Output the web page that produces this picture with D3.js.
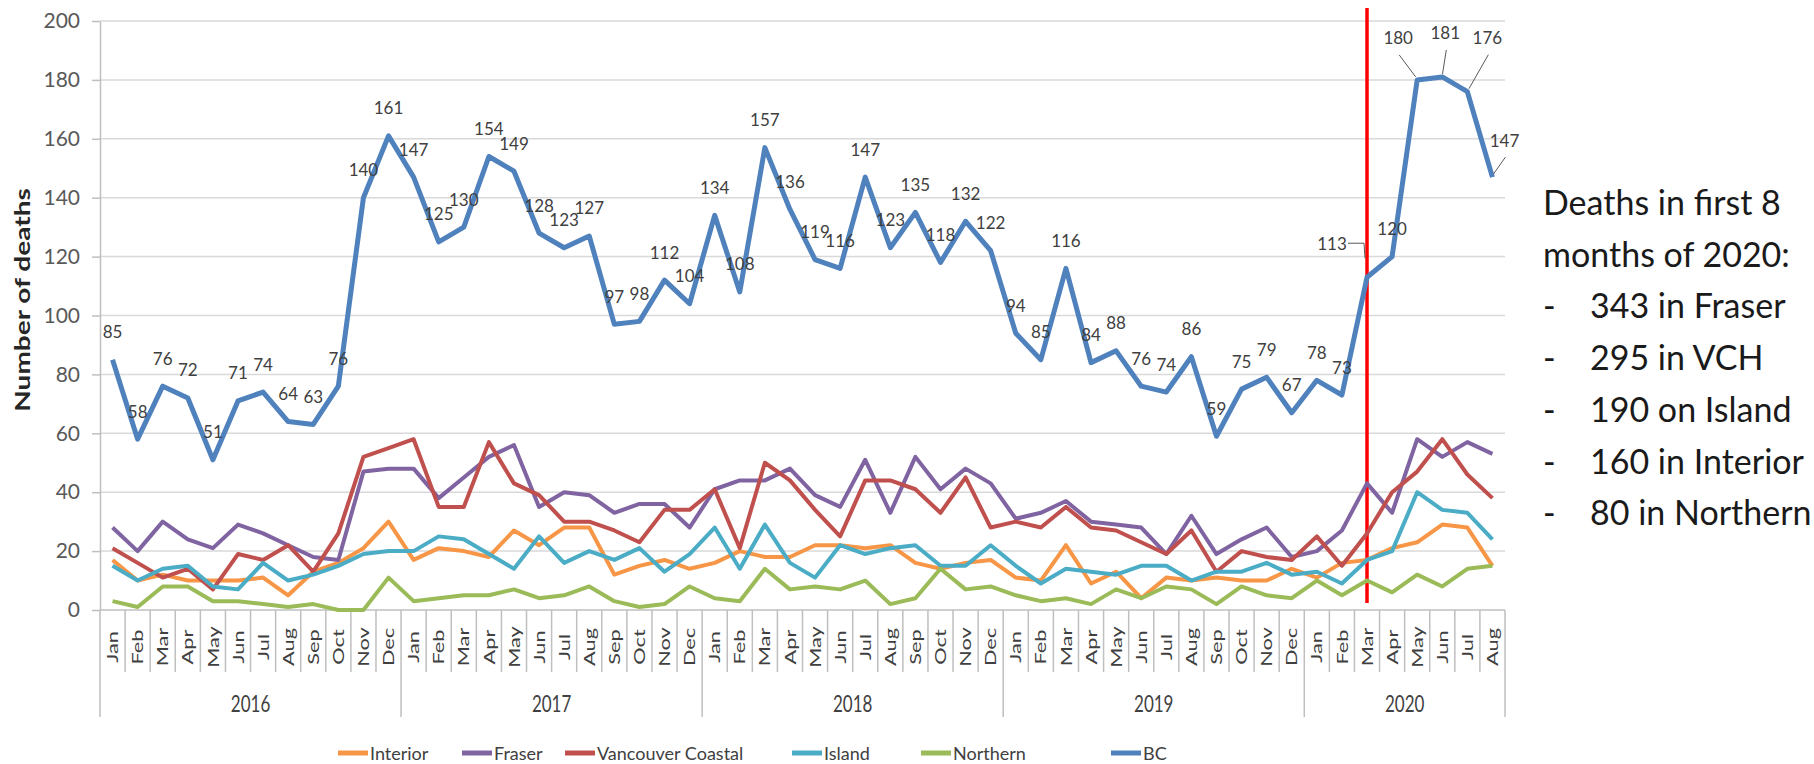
<!DOCTYPE html>
<html>
<head>
<meta charset="utf-8">
<script src="https://cdn.jsdelivr.net/npm/d3@7"></script>
<style>
  body { margin: 0; background: #fff; }
  svg { display: block; }
  text { font-family: Lato, "Open Sans", sans-serif; }
</style>
</head>
<body>
<svg id="chart" width="1814" height="764"></svg>
<script>
const monthNames = ["Jan","Feb","Mar","Apr","May","Jun","Jul","Aug","Sep","Oct","Nov","Dec"];
const years = ["2016","2017","2018","2019","2020"];

// monthly deaths, Jan 2016 - Aug 2020
const bc = [
  85, 58, 76, 72, 51, 71, 74, 64, 63, 76, 140, 161,
  147, 125, 130, 154, 149, 128, 123, 127, 97, 98, 112, 104,
  134, 108, 157, 136, 119, 116, 147, 123, 135, 118, 132, 122,
  94, 85, 116, 84, 88, 76, 74, 86, 59, 75, 79, 67,
  78, 73, 113, 120, 180, 181, 176, 147
];
const interior = [
  17, 10, 12, 10, 10, 10, 11, 5, 13, 16, 21, 30,
  17, 21, 20, 18, 27, 22, 28, 28, 12, 15, 17, 14,
  16, 20, 18, 18, 22, 22, 21, 22, 16, 14, 16, 17,
  11, 10, 22, 9, 13, 4, 11, 10, 11, 10, 10, 14,
  11, 16, 17, 21, 23, 29, 28, 15
];
const fraser = [
  28, 20, 30, 24, 21, 29, 26, 22, 18, 17, 47, 48,
  48, 38, 45, 52, 56, 35, 40, 39, 33, 36, 36, 28,
  41, 44, 44, 48, 39, 35, 51, 33, 52, 41, 48, 43,
  31, 33, 37, 30, 29, 28, 19, 32, 19, 24, 28, 18,
  20, 27, 43, 33, 58, 52, 57, 53
];
const vancouverCoastal = [
  21, 16, 11, 14, 7, 19, 17, 22, 13, 26, 52, 55,
  58, 35, 35, 57, 43, 39, 30, 30, 27, 23, 34, 34,
  41, 21, 50, 44, 34, 25, 44, 44, 41, 33, 45, 28,
  30, 28, 35, 28, 27, 23, 19, 27, 13, 20, 18, 17,
  25, 15, 26, 40, 47, 58, 46, 38
];
const island = [
  15, 10, 14, 15, 8, 7, 16, 10, 12, 15, 19, 20,
  20, 25, 24, 19, 14, 25, 16, 20, 17, 21, 13, 19,
  28, 14, 29, 16, 11, 22, 19, 21, 22, 15, 15, 22,
  15, 9, 14, 13, 12, 15, 15, 10, 13, 13, 16, 12,
  13, 9, 17, 20, 40, 34, 33, 24
];
const northern = [
  3, 1, 8, 8, 3, 3, 2, 1, 2, 0, 0, 11,
  3, 4, 5, 5, 7, 4, 5, 8, 3, 1, 2, 8,
  4, 3, 14, 7, 8, 7, 10, 2, 4, 14, 7, 8,
  5, 3, 4, 2, 7, 4, 8, 7, 2, 8, 5, 4,
  10, 5, 10, 6, 12, 8, 14, 15
];

const seriesNames = ["Interior", "Fraser", "Vancouver Coastal", "Island", "Northern", "BC"];
const seriesValues = [interior, fraser, vancouverCoastal, island, northern, bc];
const seriesColors = ["#F79646", "#8064A2", "#C0504D", "#4BACC6", "#9BBB59", "#4F81BD"];

const yTicks = [0, 20, 40, 60, 80, 100, 120, 140, 160, 180, 200];
const markerMonth = "2020-Mar";

const noteLines = [
  ["", "Deaths in first 8"],
  ["", "months of 2020:"],
  ["-", "343 in Fraser"],
  ["-", "295 in VCH"],
  ["-", "190 on Island"],
  ["-", "160 in Interior"],
  ["-", "80 in Northern"]
];

// layout bits
const legendX = [338, 462, 565, 792, 921, 1111];
const callouts = {
  50: { dx: -35, dy: -34, elbow: true },
  52: { dx: -19, dy: -42 },
  53: { dx: 3, dy: -44 },
  54: { dx: 20, dy: -54 },
  55: { dx: 12, dy: -37 }
};

const cats = [];
years.forEach(yr => monthNames.forEach(m => {
  if (cats.length < bc.length) cats.push({ year: yr, month: m, key: yr + "-" + m });
}));

const svg = d3.select("#chart");
svg.append("rect").attr("width", 1814).attr("height", 764).attr("fill", "#fff");

const x = d3.scaleBand().domain(cats.map(d => d.key)).range([100, 1505]);
const y = d3.scaleLinear().domain([0, 200]).range([610, 21]);
const cx = k => x(k) + x.bandwidth() / 2;
const [x0, x1] = x.range();

// gridlines
svg.append("g").selectAll("line").data(yTicks.filter(t => t > 0)).join("line")
  .attr("x1", x0).attr("x2", x1)
  .attr("y1", d => y(d)).attr("y2", d => y(d))
  .attr("stroke", "#d9d9d9").attr("stroke-width", 1.5);

// y axis
const yAxis = svg.append("g")
  .attr("transform", `translate(${x0},0)`)
  .call(d3.axisLeft(y).tickValues(yTicks).tickSize(8).tickSizeOuter(0).tickPadding(12));
yAxis.select(".domain").attr("stroke", "#bfbfbf").attr("stroke-width", 1.5);
yAxis.selectAll(".tick line").attr("stroke", "#bfbfbf").attr("stroke-width", 1.5);
yAxis.selectAll(".tick text")
  .attr("fill", "#595959")
  .style("font-size", "21px")
  .style("font-family", "Lato, sans-serif");

svg.append("text")
  .attr("transform", "translate(22,300) rotate(-90) scale(1.4,1)")
  .attr("text-anchor", "middle")
  .attr("dominant-baseline", "central")
  .attr("fill", "#262626")
  .style("font-size", "20px")
  .style("font-weight", "bold")
  .text("Number of deaths");

// x axis: baseline, month ticks, year separators
const xAxis = svg.append("g").attr("stroke", "#bfbfbf").attr("stroke-width", 1.5);
xAxis.append("line").attr("x1", x0).attr("x2", x1).attr("y1", y(0)).attr("y2", y(0));
xAxis.selectAll(".mtick").data(cats.map(d => x(d.key)).concat([x1])).join("line")
  .attr("class", "mtick")
  .attr("x1", d => d).attr("x2", d => d)
  .attr("y1", y(0)).attr("y2", 672);
const yearStarts = years.map(yr => x(cats.find(c => c.year === yr).key)).concat([x1]);
xAxis.selectAll(".ytick").data(yearStarts).join("line")
  .attr("class", "ytick")
  .attr("x1", d => d).attr("x2", d => d)
  .attr("y1", 672).attr("y2", 717);

svg.append("g").selectAll("text").data(cats).join("text")
  .attr("transform", d => `translate(${cx(d.key)},647) rotate(-90) scale(1.45,1)`)
  .attr("text-anchor", "middle")
  .attr("dominant-baseline", "central")
  .attr("fill", "#404040")
  .style("font-size", "15px")
  .text(d => d.month);

svg.append("g").selectAll("text").data(years).join("text")
  .attr("transform", (d, i) => `translate(${(yearStarts[i] + yearStarts[i + 1]) / 2},703) scale(1,1.35)`)
  .attr("text-anchor", "middle")
  .attr("dominant-baseline", "central")
  .attr("fill", "#404040")
  .style("font-size", "17px")
  .text(d => d);

// red marker line at March 2020
svg.append("line")
  .attr("x1", cx(markerMonth)).attr("x2", cx(markerMonth))
  .attr("y1", y(200) - 13).attr("y2", y(0) - 7)
  .attr("stroke", "#ff0000").attr("stroke-width", 3.5);

// series lines
const line = d3.line()
  .x((d, i) => cx(cats[i].key))
  .y(d => y(d));

svg.append("g").selectAll("path").data(seriesValues).join("path")
  .attr("d", d => line(d))
  .attr("fill", "none")
  .attr("stroke", (d, i) => seriesColors[i])
  .attr("stroke-width", (d, i) => i === seriesValues.length - 1 ? 5 : 4)
  .attr("stroke-linejoin", "round");

// BC data labels
const labelG = svg.append("g");
bc.forEach((v, i) => {
  const px = cx(cats[i].key);
  const py = y(v);
  const c = callouts[i];
  const lx = c ? px + c.dx : px;
  const ly = c ? py + c.dy : py - 28;
  labelG.append("text")
    .attr("x", lx).attr("y", ly)
    .attr("text-anchor", "middle")
    .attr("dominant-baseline", "central")
    .attr("fill", "#404040")
    .style("font-size", "17px")
    .text(v);
  if (c) {
    const pts = c.elbow
      ? [[lx + 16, ly], [px - 3, ly], [px - 2, py - 19]]
      : [[lx + 1, ly + 17], [px + (lx - px) * 0.08, py - 3]];
    labelG.append("path")
      .attr("d", d3.line()(pts))
      .attr("fill", "none")
      .attr("stroke", "#595959")
      .attr("stroke-width", 1);
  }
});

// legend
const legend = svg.append("g").attr("transform", "translate(0,753)");
seriesNames.forEach((name, i) => {
  const g = legend.append("g").attr("transform", `translate(${legendX[i]},0)`);
  g.append("line").attr("x1", 0).attr("x2", 30).attr("y1", 0).attr("y2", 0)
    .attr("stroke", seriesColors[i]).attr("stroke-width", 5);
  g.append("text").attr("x", 32).attr("y", 0)
    .attr("dominant-baseline", "central")
    .attr("fill", "#404040")
    .style("font-size", "18px")
    .text(name);
});

// side note
const note = svg.append("g").attr("fill", "#1a1a1a").style("font-size", "34px");
noteLines.forEach(([dash, txt], i) => {
  const by = 215 + i * 51.7;
  if (dash) {
    note.append("text").attr("x", 1543).attr("y", by).text(dash);
    note.append("text").attr("x", 1590).attr("y", by).text(txt);
  } else {
    note.append("text").attr("x", 1543).attr("y", by).text(txt);
  }
});
</script>
</body>
</html>
